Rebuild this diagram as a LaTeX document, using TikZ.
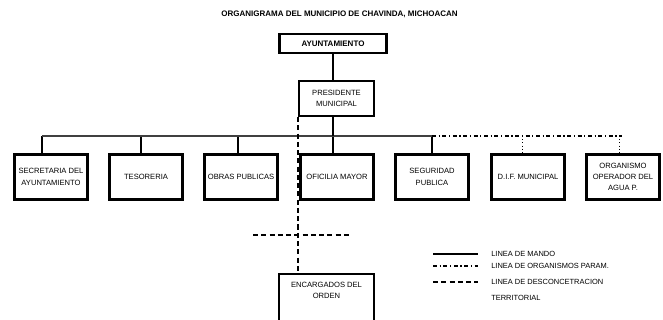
\documentclass[tikz,border=0pt]{standalone}
\usepackage{fontspec}
\setmainfont{Liberation Sans}
\usepackage{tikz}
\usetikzlibrary{positioning}

\tikzset{
  caja/.style={draw, line width=1.8pt, minimum width=55pt, minimum height=34pt,
    inner sep=1pt, align=center, font=\fontsize{5.7}{8.5}\selectfont},
  lineamando/.style={line width=1.5pt},
  lineaparam/.style={line width=1.4pt, dash pattern=on 3pt off 2pt on 0.8pt off 2pt},
  lineadesc/.style={line width=1.5pt, dash pattern=on 3.8pt off 2.4pt},
  lineabus/.style={line width=0.8pt, black!75},
  lineapunto/.style={line width=0.4pt, dotted},
  leyenda/.style={anchor=west, inner sep=0pt, font=\fontsize{5.6}{7}\selectfont}
}

\begin{document}
\begin{tikzpicture}[x=0.75pt, y=-0.75pt]
    \useasboundingbox (0,0) rectangle (663,320);

    % Title
    \node[font=\bfseries\fontsize{6}{7}\selectfont] (titulo) at (339.5,14)
      {ORGANIGRAMA DEL MUNICIPIO DE CHAVINDA, MICHOACAN};

    % Top of the chart
    \node[caja, font=\bfseries\fontsize{6}{7}\selectfont, minimum width=80.5pt, minimum height=14pt]
      (ayto) at (333,43.5) {AYUNTAMIENTO};
    \node[caja, minimum width=56pt, minimum height=26pt] (pres) at (336.5,98.5)
      {PRESIDENTE\\MUNICIPAL};
    \draw[line width=1.8pt] (ayto.south) -- (ayto.south |- pres.north);

    % Departments and their drops from the bus
    \foreach \n/\x/\d/\s/\t in {sec/51/42/lineamando/{SECRETARIA DEL\\AYUNTAMIENTO},
        tes/146/141/lineamando/TESORERIA, obras/241/238/lineamando/OBRAS PUBLICAS,
        ofi/337/333/lineamando/OFICILIA MAYOR, seg/432/432/lineamando/{SEGURIDAD\\PUBLICA},
        dif/528/522/lineapunto/D.I.F. MUNICIPAL, agua/623/619/lineapunto/{ORGANISMO\\OPERADOR DEL\\AGUA P.}} {
      \node[caja] (\n) at (\x,177) {\t};
      \coordinate (\n-d) at (\d,136);
      \draw[\s] (\n-d) -- (\n-d |- \n.north);
    }

    % Bus lines
    \draw[lineabus] (sec-d) -- (seg-d);
    \draw[lineaparam] (seg-d) -- ([xshift=2pt]agua-d);
    \draw[lineamando] (pres.south -| ofi-d) -- (ofi-d);

    % Territorial line
    \node[caja, anchor=north, minimum width=71pt, inner ysep=6pt, text depth=40pt]
      (enc) at (326.5,273) {ENCARGADOS DEL\\ORDEN};
    \draw[lineadesc] (pres.south west) -- (pres.south west |- enc.north);
    \coordinate (terr-i) at (253,235);
    \coordinate (terr-f) at (350,235);
    \draw[lineadesc] (terr-i) -- (terr-f);

    % Legend
    \foreach \y/\s/\t in {254/lineamando/LINEA DE MANDO, 266/lineaparam/LINEA DE ORGANISMOS PARAM.,
        282/lineadesc/LINEA DE DESCONCETRACION} {
      \draw[\s] (433,\y) -- (478,\y);
      \node[leyenda] (ley\y) at (491,\y) {\t};
    }
    \node[leyenda] (ley298) at (491,298) {TERRITORIAL};

\end{tikzpicture}
\end{document}
